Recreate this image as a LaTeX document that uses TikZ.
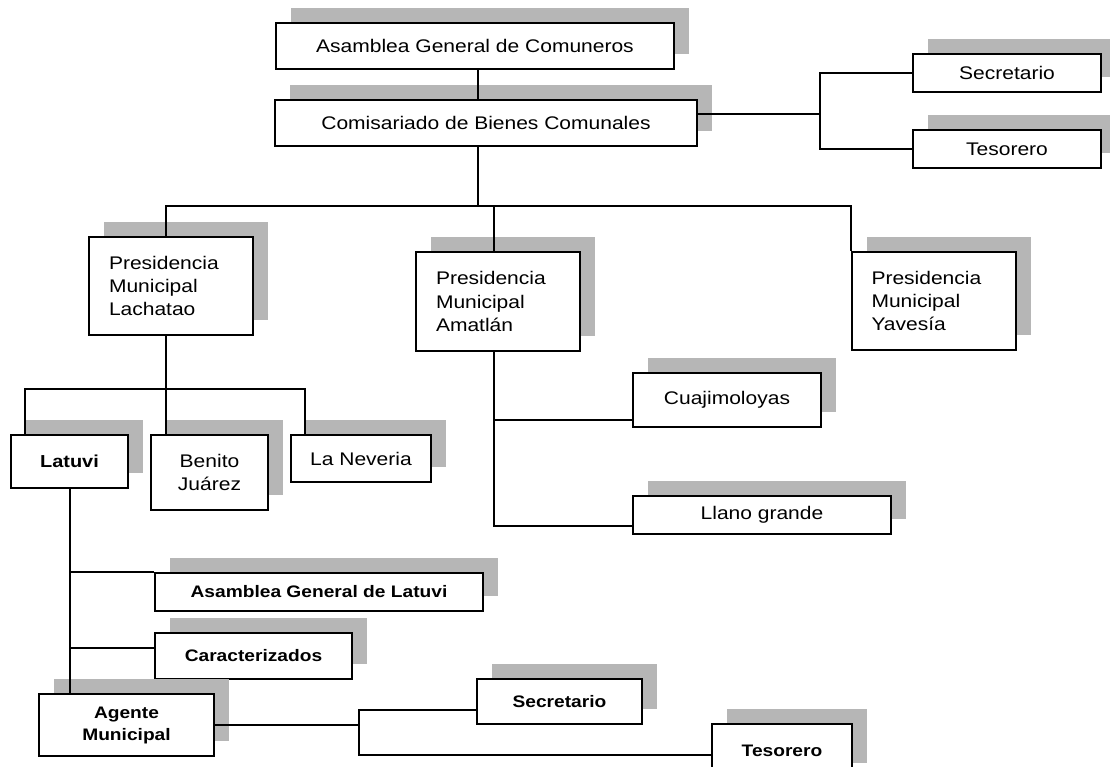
\documentclass[tikz,border=0pt]{standalone}
\usepackage{fontspec}
\setmainfont[FakeStretch=1.15]{Liberation Sans}
\usetikzlibrary{shadows}
\definecolor{shadowgray}{RGB}{182,182,182}

\begin{document}
\begin{tikzpicture}[x=0.75pt, y=-0.75pt,
    box/.style={draw, fill=white, line width=1.5pt, inner sep=2pt,
        drop shadow={shadow xshift=11.25pt, shadow yshift=11.25pt, fill=shadowgray, opacity=1},
        font=\fontsize{13.7}{17.5}\selectfont},
    presbox/.style={box, minimum width=123pt, minimum height=74pt, text width=93pt, align=left},
    boldbox/.style={box, align=center, font=\fontsize{12.5}{16.5}\selectfont\bfseries},
    link/.style={line width=1.5pt}]
    \clip (0,0) rectangle (1110,767);
    % Top of the chart
    \node[box, minimum width=298.5pt, minimum height=34.5pt] (comuneros) at (475,46) {Asamblea General de Comuneros};
    \node[box, minimum width=316.5pt, minimum height=34.5pt] (comisariado) at (486,123) {Comisariado de Bienes Comunales};
    \node[box, minimum width=141pt, minimum height=28.5pt] (secC) at (1007,73) {Secretario};
    \node[box, minimum width=141pt, minimum height=28.5pt] (tesC) at (1007,149) {Tesorero};
    % Presidencias
    \node[presbox] (lachatao) at (171,286) {Presidencia\\Municipal\\Lachatao};
    \node[presbox] (amatlan) at (498,301.5) {Presidencia\\Municipal\\Amatl\'an};
    \node[presbox] (yavesia) at (933.5,301) {Presidencia\\Municipal\\Yaves\'ia};
    % Amatlan
    \node[box, minimum width=141pt, minimum height=40.5pt] (cuaj) at (727,400) {Cuajimoloyas};
    \node[box, minimum width=193.5pt, minimum height=28.5pt] (llano) at (762,515) {Llano grande};
    % Lachatao
    \node[boldbox, minimum width=87.75pt, minimum height=39.75pt, font=\fontsize{13}{16}\selectfont\bfseries] (latuvi) at (69.5,461.5) {Latuvi};
    \node[box, align=center, minimum width=87.75pt, minimum height=56.25pt] (benito) at (209.5,472.5) {Benito\\Ju\'arez};
    \node[box, minimum width=105pt, minimum height=35.25pt] (neveria) at (361,458.5) {La Neveria};
    % Latuvi
    \node[boldbox, minimum width=246pt, minimum height=28.5pt] (asambleaL) at (319,592) {Asamblea General de Latuvi};
    \node[boldbox, minimum width=147.75pt, minimum height=34.5pt] (caract) at (253.5,656) {Caracterizados};
    \node[boldbox, minimum width=131.25pt, minimum height=46.5pt] (agente) at (126.5,725) {Agente\\Municipal};
    \node[boldbox, minimum width=123.75pt, minimum height=33.75pt] (secL) at (559.5,701.5) {Secretario};
    \node[boldbox, minimum width=105pt, minimum height=40pt] (tesL) at (782,751) {Tesorero};

    % Junctions
    \coordinate (bus) at (478,206);
    \coordinate (comJ) at (820,114);
    \coordinate (lachL) at (166,389);
    \coordinate (amL) at (494,526);
    \coordinate (cuajJ) at (494,420);
    \coordinate (caraJ) at ([yshift=6pt]caract.west);
    \coordinate (agJ) at (359,725);
    \coordinate (secJ) at ([yshift=-6pt]secL.west);
    \coordinate (tesJ) at (tesL.west |- 0,755);

    % Lines
    \draw[link] (comuneros.south -| bus) -- (comisariado.north -| bus);
    \draw[link] (comisariado.south -| bus) -- (bus);
    \draw[link] (comJ -| comisariado.east) -- (comJ);
    \draw[link] (secC.west) -| (comJ) |- (tesC.west);
    \draw[link] (lachatao.north -| lachL) |- (bus -| yavesia.north west) -- (yavesia.north west);
    \draw[link] (amatlan.north -| amL) -- (bus -| amL);
    \draw[link] (lachatao.south -| lachL) -- (lachL);
    \draw[link] ([xshift=11.25pt]latuvi.north west) |- (lachL) -| ([xshift=11.25pt]neveria.north west);
    \draw[link] (lachL) -- (lachL |- benito.north);
    \draw[link] (amatlan.south -| amL) -- (amL) -- (amL -| llano.west);
    \draw[link] (cuajJ) -- (cuajJ -| cuaj.west);
    \draw[link] (latuvi.south) -- (latuvi.south |- agente.north);
    \draw[link] (latuvi.south |- asambleaL.north west) -- (asambleaL.north west);
    \draw[link] (latuvi.south |- caraJ) -- (caraJ);
    \draw[link] (agente.east) -- (agJ);
    \draw[link] (secJ) -| (agJ) |- (tesJ);
\end{tikzpicture}
\end{document}
